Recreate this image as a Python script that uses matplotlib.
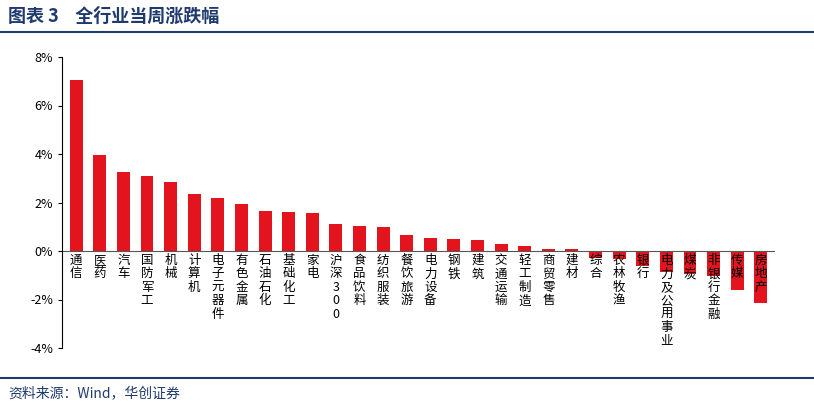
import matplotlib
matplotlib.use("Agg")
import matplotlib.pyplot as plt
from matplotlib.ticker import FuncFormatter

plt.rcParams['font.family'] = ['Noto Sans CJK SC', 'DejaVu Sans']

categories = ["通信","医药","汽车","国防军工","机械","计算机","电子元器件","有色金属","石油石化","基础化工",
              "家电","沪深300","食品饮料","纺织服装","餐饮旅游","电力设备","钢铁","建筑","交通运输","轻工制造",
              "商贸零售","建材","综合","农林牧渔","银行","电力及公用事业","煤炭","非银行金融","传媒","房地产"]
values = [7.05,3.95,3.25,3.1,2.85,2.35,2.2,1.95,1.65,1.6,
          1.55,1.1,1.05,1.0,0.68,0.55,0.5,0.47,0.28,0.22,
          0.08,0.07,-0.27,-0.32,-0.6,-0.85,-0.95,-1.05,-1.6,-2.15]

W, H = 814, 408
fig = plt.figure(figsize=(W/100, H/100), dpi=100)
ax = fig.add_axes([62/W, 1-348/H, (775-62)/W, (348-57)/H])
x = range(len(categories))
ax.bar(x, values, width=0.55, color='#e3141d')
ax.set_ylim(-4, 8)
ax.set_xlim(-0.6, len(categories)-0.4)
ax.set_yticks([-4,-2,0,2,4,6,8])
ax.yaxis.set_major_formatter(FuncFormatter(lambda v, p: f"{int(v)}%"))
ax.tick_params(axis='y', labelsize=9, length=3)
ax.set_xticks([])
for s in ['top','right','bottom']:
    ax.spines[s].set_visible(False)
ax.axhline(0, color='#555555', lw=0.8)
for i, c in enumerate(categories):
    ax.text(i, -0.12, "\n".join(c), ha='center', va='top', fontsize=9, linespacing=1.05)

fig.text(8/W, 1-16/H, "图表 3    全行业当周涨跌幅", fontsize=13, fontweight='bold', color='#1f3a6e', va='center')
fig.add_artist(plt.Line2D([0, 1], [1-32/H, 1-32/H], color='#1f3a6e', lw=1.5))
fig.add_artist(plt.Line2D([0, 1], [1-378/H, 1-378/H], color='#1f3a6e', lw=1.5))
fig.text(8/W, 1-393/H, "资料来源：Wind，华创证券", fontsize=10, style='italic', color='#1f3a6e', va='center')
fig.savefig("out.png", dpi=100)
